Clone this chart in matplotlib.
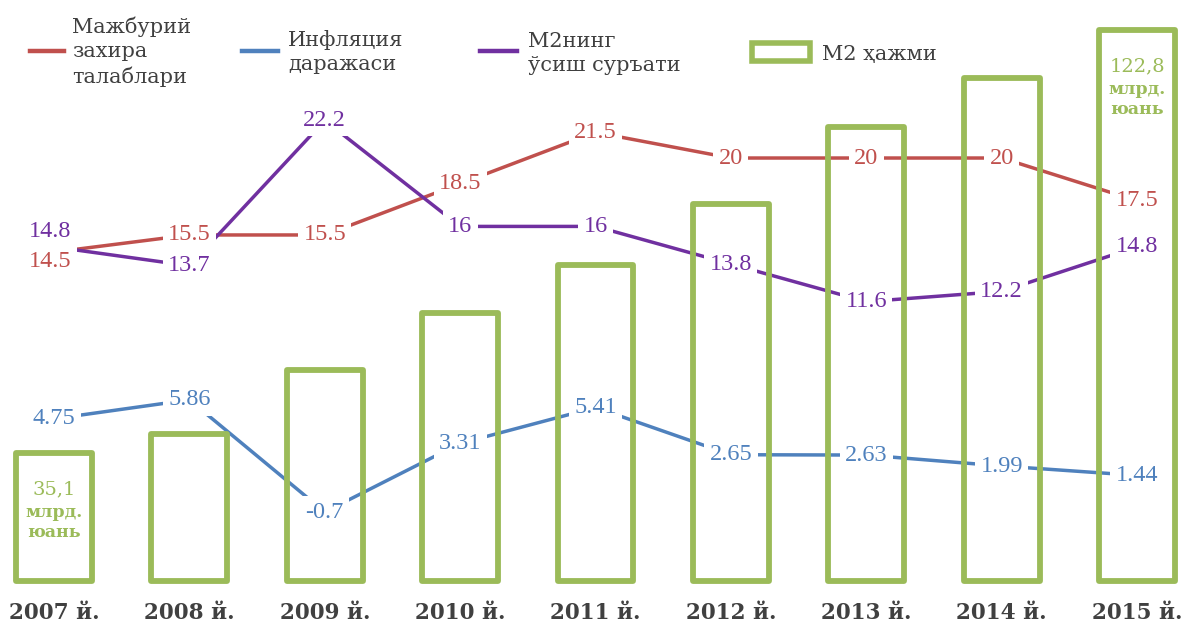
import numpy as np
import matplotlib.pyplot as plt
from matplotlib.lines import Line2D
from matplotlib.patches import Rectangle

# chart data
years = ['2007 й.', '2008 й.', '2009 й.', '2010 й.', '2011 й.',
         '2012 й.', '2013 й.', '2014 й.', '2015 й.']
m2_volume = [35.1, 39.0, 52.3, 64.1, 74.1, 86.7, 102.7, 112.9, 122.8]
reserve_req = [14.5, 15.5, 15.5, 18.5, 21.5, 20, 20, 20, 17.5]
inflation = [4.75, 5.86, -0.7, 3.31, 5.41, 2.65, 2.63, 1.99, 1.44]
m2_growth = [14.8, 13.7, 22.2, 16, 16, 13.8, 11.6, 12.2, 14.8]

RED = '#C0504D'
BLUE = '#4F81BD'
PURPLE = '#7030A0'
GREEN = '#9BBB59'
TEXT = '#404040'

plt.rcParams['font.family'] = 'DejaVu Serif'

W, H = 1189, 630
fig = plt.figure(figsize=(W / 100, H / 100), dpi=100)


def fx(px):
    return px / W


def fy(py):
    return 1 - py / H


# lines axis (under the bars)
ax = fig.add_axes([0, 0, 1, 1])
ax.set_xlim(-0.399, 8.384)
ax.set_ylim(-7.60, 29.24)
ax.axis('off')

# bars axis on top
ax2 = ax.twinx()
ax2.set_ylim(-1.60, 129.02)
ax2.axis('off')

x = np.arange(len(years))

for vals, col in [(reserve_req, RED), (inflation, BLUE), (m2_growth, PURPLE)]:
    ax.plot(x, vals, color=col, lw=2.5, solid_capstyle='butt', zorder=2)


def label(xi, v, col, dx=0, dy=0):
    ax.annotate(f'{v:g}', (xi, v), xytext=(dx, dy), textcoords='offset points',
                ha='center', va='center', color=col, fontsize=17.5,
                family='Liberation Serif',
                bbox=dict(boxstyle='square,pad=0.22', fc='white', ec='none'),
                zorder=4)


for i in range(len(years)):
    if i == 0:
        label(i, m2_growth[i], PURPLE, dx=-3, dy=11)
        label(i, reserve_req[i], RED, dx=-3, dy=-7)
    else:
        label(i, reserve_req[i], RED)
        label(i, m2_growth[i], PURPLE)
    label(i, inflation[i], BLUE)

# hollow bars for M2 volume
base = 8.56
ax2.bar(x, [v - base for v in m2_volume], bottom=base, width=0.56,
        facecolor='none', edgecolor=GREEN, linewidth=4.2, joinstyle='round',
        zorder=3)

for i in (0, len(years) - 1):
    ax2.annotate(f'{m2_volume[i]:g}'.replace('.', ','), (x[i], m2_volume[i]),
                 xytext=(0, -26), textcoords='offset points', ha='center',
                 va='center', color=GREEN, fontsize=14)
    ax2.annotate('млрд.\nюань', (x[i], m2_volume[i]), xytext=(0, -50),
                 textcoords='offset points', ha='center', va='center',
                 color=GREEN, fontsize=12.5, fontweight='bold', linespacing=1.2)

# year labels
for i, yr in enumerate(years):
    ax.text(x[i], 1 - 613 / H, yr, transform=ax.get_xaxis_transform(),
            ha='center', va='center', fontsize=15.5, fontweight='bold',
            color=TEXT)

# legend drawn by hand (va='baseline' sits on the last line)
legend_items = [
    (RED, 30, 64, 72, 'Мажбурий\nзахира\nталаблари', 83),
    (BLUE, 242, 278, 288, 'Инфляция\nдаражаси', 70),
    (PURPLE, 480, 517, 528, 'М2нинг\nўсиш суръати', 71),
]
for col, x0, x1, tx, txt, last_base in legend_items:
    fig.add_artist(Line2D([fx(x0), fx(x1)], [fy(51), fy(51)], color=col,
                          lw=3.2, transform=fig.transFigure))
    fig.text(fx(tx), fy(last_base), txt, ha='left', va='baseline',
             fontsize=15, color=TEXT, linespacing=1.32)

fig.add_artist(Rectangle((fx(752), fy(61)), 58 / W, 18 / H, fill=False,
                         ec=GREEN, lw=4, transform=fig.transFigure))
fig.text(fx(822), fy(60), 'М2 ҳажми', ha='left', va='baseline', fontsize=15,
         color=TEXT)

fig.savefig('out.png', dpi=100, facecolor='white')
